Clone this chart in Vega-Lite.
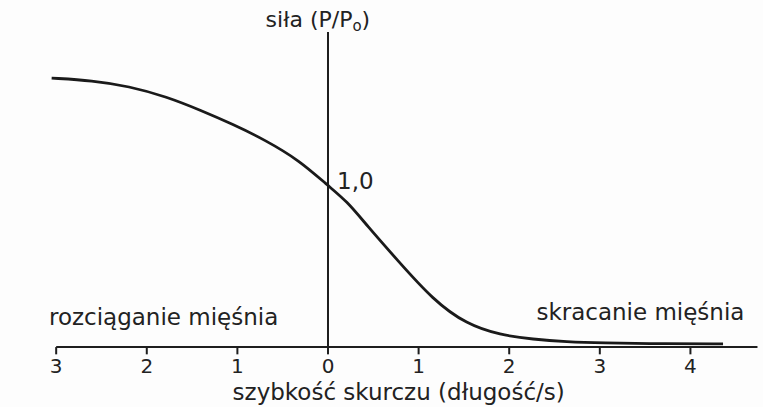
{
  "$schema": "https://vega.github.io/schema/vega-lite/v6.json",
  "width": 763,
  "height": 407,
  "autosize": {"type": "none"},
  "padding": 0,
  "background": "#fdfdfd",
  "config": {"view": {"stroke": null}},
  "datasets": {
    "curve": [
      {"v": -3.05, "F": 1.66},
      {"v": -2.6, "F": 1.645},
      {"v": -2.2, "F": 1.61},
      {"v": -1.78, "F": 1.545},
      {"v": -1.4, "F": 1.46},
      {"v": -1.05, "F": 1.375},
      {"v": -0.7, "F": 1.28},
      {"v": -0.31, "F": 1.15},
      {"v": -0.01, "F": 1.0},
      {"v": 0.21, "F": 0.9},
      {"v": 0.43, "F": 0.75},
      {"v": 0.76, "F": 0.54},
      {"v": 1.16, "F": 0.29},
      {"v": 1.53, "F": 0.14},
      {"v": 1.9, "F": 0.074},
      {"v": 2.26, "F": 0.048},
      {"v": 2.64, "F": 0.032},
      {"v": 3.0, "F": 0.025},
      {"v": 3.74, "F": 0.02},
      {"v": 4.36, "F": 0.02}
    ],
    "haxis": [{"x1": -3, "x2": 4.74, "y": 0}],
    "vaxis": [{"x": 0, "y1": 0, "y2": 1.944}],
    "ticks": [
      {"v": -3, "lab": "3", "y1": 0, "y2": -0.045},
      {"v": -2, "lab": "2", "y1": 0, "y2": -0.045},
      {"v": -1, "lab": "1", "y1": 0, "y2": -0.045},
      {"v": 0, "lab": "0", "y1": 0, "y2": -0.045},
      {"v": 1, "lab": "1", "y1": 0, "y2": -0.045},
      {"v": 2, "lab": "2", "y1": 0, "y2": -0.045},
      {"v": 3, "lab": "3", "y1": 0, "y2": -0.045},
      {"v": 4, "lab": "4", "y1": 0, "y2": -0.045}
    ],
    "labelsCenter": [
      {"v": 0.78, "F": -0.284, "t": "szybkość skurczu (długość/s)"}
    ],
    "titleMain": [{"v": 0.27, "F": 2.02, "t": "siła (P/P"}],
    "titleSub": [{"v": 0.27, "F": 2.02, "t": "o"}],
    "titleEnd": [{"v": 0.37, "F": 2.02, "t": ")"}],
    "labelsLeft": [
      {"v": 0.1, "F": 1.02, "t": "1,0"},
      {"v": -3.08, "F": 0.18, "t": "rozciąganie mięśnia"},
      {"v": 2.3, "F": 0.21, "t": "skracanie mięśnia"}
    ]
  },
  "layer": [
    {
      "data": {"name": "haxis"},
      "mark": {"type": "rule", "color": "#1e1e1e", "strokeWidth": 2},
      "encoding": {
        "x": {"field": "x1", "type": "quantitative", "scale": {"domain": [-3.62, 4.801], "nice": false, "zero": false}, "axis": null},
        "x2": {"field": "x2"},
        "y": {"field": "y", "type": "quantitative", "scale": {"domain": [-0.37, 2.142], "nice": false, "zero": false}, "axis": null}
      }
    },
    {
      "data": {"name": "vaxis"},
      "mark": {"type": "rule", "color": "#1e1e1e", "strokeWidth": 2},
      "encoding": {
        "x": {"field": "x", "type": "quantitative"},
        "y": {"field": "y1", "type": "quantitative"},
        "y2": {"field": "y2"}
      }
    },
    {
      "data": {"name": "ticks"},
      "mark": {"type": "rule", "color": "#1e1e1e", "strokeWidth": 2},
      "encoding": {
        "x": {"field": "v", "type": "quantitative"},
        "y": {"field": "y1", "type": "quantitative"},
        "y2": {"field": "y2"}
      }
    },
    {
      "data": {"name": "ticks"},
      "mark": {"type": "text", "font": "DejaVu Sans", "fontSize": 20, "color": "#222222", "baseline": "middle", "align": "center", "dy": 20},
      "encoding": {
        "x": {"field": "v", "type": "quantitative"},
        "y": {"field": "y1", "type": "quantitative"},
        "text": {"field": "lab"}
      }
    },
    {
      "data": {"name": "curve"},
      "mark": {"type": "line", "color": "#1a1a1a", "strokeWidth": 2.8, "interpolate": "basis"},
      "encoding": {
        "x": {"field": "v", "type": "quantitative"},
        "y": {"field": "F", "type": "quantitative"}
      }
    },
    {
      "data": {"name": "labelsCenter"},
      "mark": {"type": "text", "font": "DejaVu Sans", "fontSize": 23, "color": "#222222", "baseline": "middle", "align": "center"},
      "encoding": {
        "x": {"field": "v", "type": "quantitative"},
        "y": {"field": "F", "type": "quantitative"},
        "text": {"field": "t"}
      }
    },
    {
      "data": {"name": "titleMain"},
      "mark": {"type": "text", "font": "DejaVu Sans", "fontSize": 22, "color": "#222222", "baseline": "middle", "align": "right"},
      "encoding": {
        "x": {"field": "v", "type": "quantitative"},
        "y": {"field": "F", "type": "quantitative"},
        "text": {"field": "t"}
      }
    },
    {
      "data": {"name": "titleSub"},
      "mark": {"type": "text", "font": "DejaVu Sans", "fontSize": 15, "color": "#222222", "baseline": "middle", "align": "left", "dy": 6},
      "encoding": {
        "x": {"field": "v", "type": "quantitative"},
        "y": {"field": "F", "type": "quantitative"},
        "text": {"field": "t"}
      }
    },
    {
      "data": {"name": "titleEnd"},
      "mark": {"type": "text", "font": "DejaVu Sans", "fontSize": 22, "color": "#222222", "baseline": "middle", "align": "left"},
      "encoding": {
        "x": {"field": "v", "type": "quantitative"},
        "y": {"field": "F", "type": "quantitative"},
        "text": {"field": "t"}
      }
    },
    {
      "data": {"name": "labelsLeft"},
      "mark": {"type": "text", "font": "DejaVu Sans", "fontSize": 23, "color": "#222222", "baseline": "middle", "align": "left"},
      "encoding": {
        "x": {"field": "v", "type": "quantitative"},
        "y": {"field": "F", "type": "quantitative"},
        "text": {"field": "t"}
      }
    }
  ]
}
